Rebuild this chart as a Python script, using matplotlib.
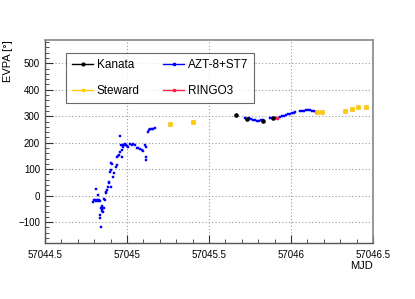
import matplotlib
matplotlib.use("Agg")
import matplotlib.pyplot as plt
from matplotlib.ticker import MultipleLocator

plt.rcParams['font.family'] = ['Liberation Sans', 'DejaVu Sans']

# AZT-8+ST7
azt_mjd = [57044.793, 57044.800, 57044.805, 57044.810, 57044.814, 57044.820, 57044.823,
           57044.826, 57044.829, 57044.834, 57044.836, 57044.838, 57044.840, 57044.842,
           57044.845, 57044.848, 57044.850, 57044.852, 57044.855, 57044.858, 57044.862,
           57044.865, 57044.870, 57044.874, 57044.878, 57044.884, 57044.889, 57044.893,
           57044.896, 57044.900, 57044.903, 57044.905, 57044.910, 57044.916, 57044.921,
           57044.930, 57044.936, 57044.940, 57044.945, 57044.950, 57044.955, 57044.960,
           57044.964, 57044.967, 57044.970, 57044.973, 57044.977, 57044.982, 57044.988,
           57044.994, 57045.000, 57045.008, 57045.018, 57045.028, 57045.038, 57045.048,
           57045.058, 57045.068, 57045.078, 57045.090, 57045.100, 57045.110, 57045.114,
           57045.116, 57045.118, 57045.126, 57045.132, 57045.140, 57045.150, 57045.160,
           57045.168,
           57045.720, 57045.732, 57045.744, 57045.756, 57045.768, 57045.780, 57045.793,
           57045.805, 57045.817, 57045.829, 57045.872, 57045.884, 57045.896, 57045.908,
           57045.921, 57045.933, 57045.945, 57045.957, 57045.970, 57045.982, 57045.994,
           57046.006, 57046.018, 57046.024, 57046.055, 57046.067, 57046.079, 57046.091,
           57046.104, 57046.116, 57046.128, 57046.140, 57046.152]
azt_evpa = [-23, -18, -15, -20, 24, -17, -22, 3, -15, -19, -73, -85, -117, -45,
            -52, -57, -41, -48, -60, -14, -45, -16, 15, 9, 21, 34, 53, 48, 91,
            96, 32, 122, 118, 69, 87, 109, 116, 145, 150, 154, 166, 225, 191, 147,
            172, 191, 185, 191, 195, 191, 188, 185, 195, 191, 195, 191, 179, 179,
            175, 172, 169, 191, 145, 135, 185, 242, 248, 250, 253, 253, 255,
            292, 291, 292, 290, 287, 285, 283, 283, 284, 287, 293, 294, 293, 292,
            293, 296, 299, 302, 305, 307, 309, 311, 314, 315, 320, 321, 321, 322,
            323, 322, 320, 318, 317]

# Kanata
kanata_mjd = [57045.665, 57045.730, 57045.827, 57045.888]
kanata_evpa = [303, 288, 283, 294]

# Steward
steward_mjd = [57045.262, 57045.404, 57046.157, 57046.190, 57046.329, 57046.370,
               57046.410, 57046.457]
steward_evpa = [271, 278, 317, 317, 321, 328, 336, 336]

# RINGO3
ringo_mjd = [57045.913]
ringo_evpa = [292]

fig = plt.figure(figsize=(4.15, 2.99), dpi=100)
ax = fig.add_axes([45 / 415, 56 / 299, 328 / 415, 203 / 299])

ax.plot(azt_mjd, azt_evpa, ls='none', marker='s', ms=1.7, color='#0000ff',
        mec='#0000ff', mew=0.3, label='AZT-8+ST7', zorder=3)
ax.plot(kanata_mjd, kanata_evpa, ls='none', marker='o', ms=2.3, color='black',
        label='Kanata', zorder=4)
ax.plot(steward_mjd, steward_evpa, ls='none', marker='s', ms=2.2, color='#ffcc00',
        mec='#f5b800', mew=0.4, label='Steward', zorder=4)
ax.plot(ringo_mjd, ringo_evpa, ls='none', marker='s', ms=1.8, color='#ff1f4b',
        label='RINGO3', zorder=5)

ax.set_xlim(57044.5, 57046.5)
ax.set_ylim(-179, 588)
ax.xaxis.set_major_locator(MultipleLocator(0.5))
ax.xaxis.set_minor_locator(MultipleLocator(0.1))
ax.yaxis.set_major_locator(MultipleLocator(100))
ax.yaxis.set_minor_locator(MultipleLocator(20))
ax.set_xticks([57044.5, 57045, 57045.5, 57046, 57046.5])
ax.set_xticklabels(['57044.5', '57045', '57045.5', '57046', '57046.5'])

ax.tick_params(which='both', direction='in', top=False, right=False,
               labelsize=7, colors='#333333', labelcolor='black')
ax.tick_params(which='major', length=6, width=0.8)
ax.tick_params(which='minor', length=3, width=0.6)
ax.tick_params(axis='x', pad=5)
ax.grid(True, which='major', ls=(0, (1, 2)), color='#999999', lw=0.8)
for side in ['top', 'right']:
    ax.spines[side].set_color('#888888')
    ax.spines[side].set_linewidth(1.2)
for side in ['left', 'bottom']:
    ax.spines[side].set_color('#555555')
    ax.spines[side].set_linewidth(1.0)

ax.set_ylabel('EVPA [°]', loc='top', fontsize=8)
ax.set_xlabel('MJD', loc='right', fontsize=8, labelpad=1)

handles, labels = ax.get_legend_handles_labels()
order = [1, 2, 0, 3]
leg_handles = []
for i in order:
    h = handles[i]
    lh = plt.Line2D([], [], color=h.get_color(), marker=h.get_marker(),
                    ms=2.0, lw=1.0)
    leg_handles.append(lh)
leg = ax.legend(leg_handles, [labels[i] for i in order], ncol=2,
                loc='upper left', bbox_to_anchor=(0.046, 0.966),
                fontsize=8.5, frameon=True, fancybox=False, edgecolor='#444444',
                handlelength=1.8, handletextpad=0.3, columnspacing=2.0,
                labelspacing=1.25, borderpad=0.5)
leg.get_frame().set_linewidth(0.8)
leg.set_zorder(10)

fig.savefig('out.png', dpi=100)
